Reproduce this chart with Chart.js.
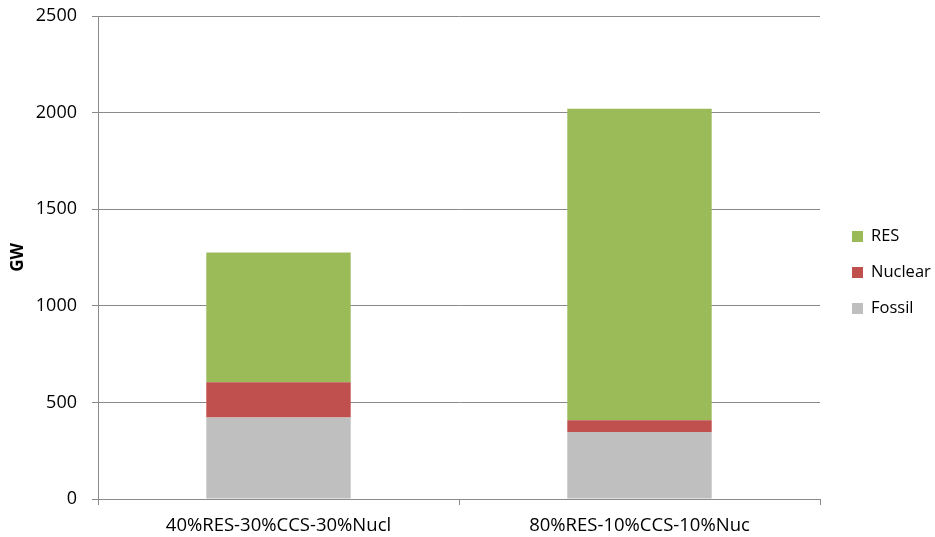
<!DOCTYPE html>
<html>
<head>
<meta charset="utf-8">
<title>Installed capacity by scenario</title>
<script src="https://cdn.jsdelivr.net/npm/chart.js@4.4.1/dist/chart.umd.min.js"></script>
<style>
    html, body { margin: 0; padding: 0; background: #fff; }
    #wrap { width: 935px; height: 537px; position: relative; }
</style>
</head>
<body>
<div id="wrap"><canvas id="capacityChart"></canvas></div>
<script>
// Scenarios and installed capacity (GW)
const categories = ['40%RES-30%CCS-30%Nucl', '80%RES-10%CCS-10%Nuc'];
const fossil = [422, 347];
const nuclear = [182, 60];
const res = [672, 1613];

const FONT = '"Open Sans", sans-serif';
const GRID = '#8a8a8a';

// Legend drawn beside the plot, top entry = last dataset
const sideLegend = {
    id: 'sideLegend',
    afterDraw(chart) {
        const ctx = chart.ctx;
        const area = chart.chartArea;
        const items = chart.data.datasets.slice().reverse();
        const mid = (area.top + area.bottom) / 2 + 15;
        const gap = 36;
        ctx.save();
        ctx.font = '16.5px ' + FONT;
        ctx.textBaseline = 'middle';
        items.forEach((ds, i) => {
            const y = mid + (i - 1) * gap;
            ctx.fillStyle = ds.backgroundColor;
            ctx.fillRect(area.right + 32, y - 5.5, 11, 11);
            ctx.fillStyle = '#000';
            ctx.fillText(ds.label, area.right + 51, y);
        });
        ctx.restore();
    }
};

const ctx = document.getElementById('capacityChart').getContext('2d');
new Chart(ctx, {
    type: 'bar',
    data: {
        labels: categories,
        datasets: [
            { label: 'Fossil', data: fossil, backgroundColor: '#BFBFBF' },
            { label: 'Nuclear', data: nuclear, backgroundColor: '#C0504D' },
            { label: 'RES', data: res, backgroundColor: '#9BBB59' }
        ]
    },
    options: {
        responsive: true,
        maintainAspectRatio: false,
        animation: false,
        layout: { padding: { top: 0, right: 115, bottom: 0, left: 4 } },
        datasets: { bar: { categoryPercentage: 1, barPercentage: 0.4, borderWidth: 0 } },
        plugins: {
            legend: { display: false },
            tooltip: { enabled: false }
        },
        scales: {
            x: {
                stacked: true,
                grid: { drawOnChartArea: false, drawTicks: true, tickLength: 6, color: GRID, offset: true },
                border: { color: GRID },
                ticks: { color: '#000', font: { family: FONT, size: 18.5 }, padding: 10 },
                afterFit: s => { s.height = 38; }
            },
            y: {
                stacked: true,
                min: 0,
                max: 2500,
                grid: { color: GRID, tickLength: 6 },
                border: { color: GRID },
                ticks: { stepSize: 500, color: '#000', font: { family: FONT, size: 18 }, padding: 15, callback: v => String(v) },
                title: { display: true, text: 'GW', color: '#000', font: { family: FONT, size: 17, weight: 'bold' }, padding: 4 },
                // fixed axis box so the plot edges stay put
                afterFit: s => { s.width = 94; s.paddingTop = 16; s.paddingBottom = 0; }
            }
        }
    },
    plugins: [sideLegend]
});
</script>
</body>
</html>
